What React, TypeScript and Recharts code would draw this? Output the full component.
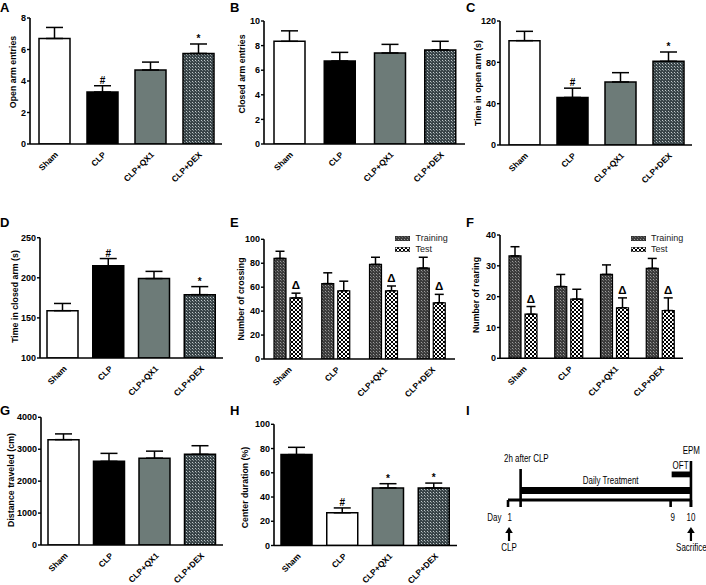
import React from 'react';
import {
  BarChart, Bar, XAxis, YAxis, ErrorBar, Cell, LabelList, Legend,
  ComposedChart, ReferenceLine, ReferenceArea, Scatter,
} from 'recharts';

const FONT = "'Liberation Sans', Arial, Helvetica, sans-serif";

// ---------------- data ----------------
const CATEGORIES = ['Sham', 'CLP', 'CLP+QX1', 'CLP+DEX'];

const A_VALUES = [6.7, 3.3, 4.7, 5.75];
const A_ERRORS = [0.7, 0.4, 0.5, 0.6];
const A_MARKS = ['', '#', '', '*'];
const A_TICKS = [0, 2, 4, 6, 8];

const B_VALUES = [8.35, 6.75, 7.4, 7.65];
const B_ERRORS = [0.85, 0.7, 0.7, 0.7];
const B_MARKS = ['', '', '', ''];
const B_TICKS = [0, 2, 4, 6, 8, 10];

const C_VALUES = [101, 46, 61, 81];
const C_ERRORS = [9, 9, 9, 9];
const C_MARKS = ['', '#', '', '*'];
const C_TICKS = [0, 40, 80, 120];

const D_VALUES = [159, 215, 199, 179];
const D_ERRORS = [9, 9, 9, 10];
const D_MARKS = ['', '#', '', '*'];
const D_TICKS = [100, 150, 200, 250];

const SERIES_NAMES = ['Training', 'Test'];

const E_TRAINING = [84, 63, 79, 76];
const E_TRAINING_ERR = [6, 9, 6, 9];
const E_TEST = [51, 57, 57, 47];
const E_TEST_ERR = [4, 8, 4, 7];
const E_MARKS = ['Δ', '', 'Δ', 'Δ'];
const E_TICKS = [0, 20, 40, 60, 80, 100];

const F_TRAINING = [33.2, 23.3, 27.2, 29.2];
const F_TRAINING_ERR = [3, 3.9, 3.1, 3.2];
const F_TEST = [14.3, 19.2, 16.4, 15.5];
const F_TEST_ERR = [2.5, 3.2, 3.2, 4.1];
const F_MARKS = ['Δ', '', 'Δ', 'Δ'];
const F_TICKS = [0, 10, 20, 30, 40];

const G_VALUES = [3300, 2620, 2720, 2840];
const G_ERRORS = [180, 250, 220, 270];
const G_MARKS = ['', '', '', ''];
const G_TICKS = [0, 1000, 2000, 3000, 4000];

const H_VALUES = [75, 27, 47.5, 47.5];
const H_ERRORS = [6, 4, 3.5, 4];
const H_MARKS = ['', '#', '*', '*'];
const H_TICKS = [0, 20, 40, 60, 80, 100];

// timeline (panel I)
const TIMELINE_START_DAY = 1;
const TIMELINE_END_DAY = 10;
const TIMELINE_TICK_DAYS = [1, 9, 10];
const TREATMENT_START_DAY = 1.62; // "2h after CLP" (schematic)
const OFT_START_DAY = 9.05;
const EPM_DAY = 10;
const I_LABELS = [
  { x: 0.8, y: 72, label: '2h after CLP', anchor: 'start' },
  { x: 6.05, y: 94, label: 'Daily Treatment', anchor: 'middle' },
  { x: 9.88, y: 79, label: 'OFT', anchor: 'end' },
  { x: 10.02, y: 64, label: 'EPM', anchor: 'middle' },
  { x: -0.02, y: 131, label: 'Day', anchor: 'start' },
  { x: 1.08, y: 131, label: '1', anchor: 'middle' },
  { x: 9.1, y: 131, label: '9', anchor: 'middle' },
  { x: 10, y: 131, label: '10', anchor: 'middle' },
  { x: 1.05, y: 161, label: 'CLP', anchor: 'middle' },
  { x: 10.02, y: 161, label: 'Sacrifice', anchor: 'middle' },
];
const I_ARROWS = [{ x: 1.05, y: 137 }, { x: 10, y: 137 }];

// ---------------- styles ----------------
const WHITE = '#ffffff';
const BLACK = '#000000';
const GRAY = '#6d7b78';
const DEX_FILL = 'url(#patDex)';
const TRAIN_FILL = 'url(#patTrain)';
const TEST_FILL = 'url(#patTest)';
const FILLS_STD = [WHITE, BLACK, GRAY, DEX_FILL];
const FILLS_H = [BLACK, WHITE, GRAY, DEX_FILL];
const AXIS_LINE = { stroke: '#000', strokeWidth: 1.6 };

function Patterns() {
  return (
    <svg width={0} height={0} style={{ position: 'absolute' }}>
      <defs>
        <pattern id="patDex" patternUnits="userSpaceOnUse" width={3} height={3}>
          <rect width={3} height={3} fill="#394448" />
          <rect x={0} y={0} width={1} height={1} fill="#c0c8ca" />
          <rect x={1} y={1} width={1} height={1} fill="#7d888b" />
        </pattern>
        <pattern id="patTrain" patternUnits="userSpaceOnUse" width={3} height={3}>
          <rect width={3} height={3} fill="#3c3c3c" />
          <rect x={0} y={0} width={1} height={1} fill="#9c9c9c" />
          <rect x={1} y={1} width={1} height={1} fill="#6c6c6c" />
        </pattern>
        <pattern id="patTest" patternUnits="userSpaceOnUse" width={4} height={4}>
          <rect width={4} height={4} fill="#000" />
          <rect x={0} y={0} width={2} height={2} fill="#fff" />
          <rect x={2} y={2} width={2} height={2} fill="#fff" />
        </pattern>
      </defs>
    </svg>
  );
}

const XTick = (props: any) => {
  const { x, y, payload } = props;
  const ax = x + 4.5;
  const ay = y + 11.2;
  return (
    <text
      x={ax}
      y={ay}
      transform={`rotate(-45 ${ax} ${ay})`}
      textAnchor="end"
      fontSize={8.4}
      fontWeight="bold"
      fontFamily={FONT}
      fill="#000"
    >
      {payload.value}
    </text>
  );
};

const YLabel = (props: any) => {
  const { cx, cy, text } = props;
  return (
    <text
      x={cx}
      y={cy}
      transform={`rotate(-90 ${cx} ${cy})`}
      textAnchor="middle"
      dominantBaseline="central"
      fontSize={8.8}
      fontWeight="bold"
      fontFamily={FONT}
      fill="#000"
    >
      {text}
    </text>
  );
};

function makeMarkRenderer(values: number[], errors: number[], base: number, gap: number, size: number) {
  return (props: any) => {
    const txt = props.value;
    if (!txt) return null;
    const vb = props.viewBox || props;
    const { x, y, width, height } = vb;
    const idx = props.index;
    const h = Math.abs(height);
    const pxPerUnit = h / (values[idx] - base);
    const top = Math.min(y, y + height) - errors[idx] * pxPerUnit - gap;
    return (
      <text
        x={x + width / 2}
        y={top}
        textAnchor="middle"
        fontSize={size}
        fontWeight="bold"
        fontFamily={FONT}
        fill="#000"
      >
        {txt}
      </text>
    );
  };
}

type SingleProps = {
  left: number; top: number; axisX: number; topY: number; zeroY: number; xEnd: number;
  domain: [number, number]; ticks: number[]; values: number[]; errors: number[]; marks: string[];
  fills: string[]; yLabel: string; labelCX: number; labelCY: number;
};

function SinglePanel(p: SingleProps) {
  const data = CATEGORIES.map((cat, i) => ({ cat, value: p.values[i], err: [0, p.errors[i]], mark: p.marks[i] }));
  const width = p.xEnd - p.left + 6;
  const height = Math.min(p.zeroY - p.top + 60, 585 - p.top);
  const yw = p.axisX - p.left;
  const base = p.domain[0];
  const xAxisH = height - (p.zeroY - p.top) - 4;
  return (
    <div style={{ position: 'absolute', left: p.left, top: p.top }}>
      <BarChart width={width} height={height} data={data} margin={{ top: p.topY - p.top, right: 6, bottom: 4, left: 0 }}>
        <XAxis dataKey="cat" height={xAxisH} interval={0} tickLine={false} tickSize={0} tickMargin={0} axisLine={AXIS_LINE} tick={(t: any) => <XTick {...t} />} />
        <YAxis
          type="number"
          domain={p.domain}
          ticks={p.ticks}
          interval={0}
          allowDataOverflow
          width={yw}
          axisLine={AXIS_LINE}
          tickLine={{ stroke: '#000', strokeWidth: 1.4 }}
          tickSize={3}
          tickMargin={1}
          tick={{ fontSize: 9, fontWeight: 'bold', fill: '#000', fontFamily: FONT }}
          label={<YLabel cx={p.labelCX - p.left} cy={p.labelCY - p.top} text={p.yLabel} />}
        />
        <Bar dataKey="value" barSize={31} stroke="#000" strokeWidth={1.5} isAnimationActive={false}>
          {data.map((d, i) => <Cell key={d.cat} fill={p.fills[i]} />)}
          <ErrorBar dataKey="err" width={8.5} stroke="#000" strokeWidth={1.5} direction="y" />
          <LabelList dataKey="mark" content={makeMarkRenderer(p.values, p.errors, base, 2, 10)} />
        </Bar>
      </BarChart>
    </div>
  );
}

type GroupProps = {
  left: number; top: number; axisX: number; topY: number; zeroY: number; xEnd: number;
  domain: [number, number]; ticks: number[];
  training: number[]; trainingErr: number[]; test: number[]; testErr: number[]; marks: string[];
  yLabel: string; labelCX: number; labelCY: number; legendLeft: number; legendTop: number;
};

const LegendBox = () => (
  <div style={{ fontFamily: FONT, fontSize: 9, color: '#222', lineHeight: '11px' }}>
    {SERIES_NAMES.map((n, i) => (
      <div key={n} style={{ display: 'flex', alignItems: 'center', height: 11.2, whiteSpace: 'nowrap' }}>
        <svg width={15} height={5} style={{ marginRight: 5.5, display: 'block' }}>
          <rect x={0.25} y={0.25} width={14.5} height={4.5} fill={i === 0 ? TRAIN_FILL : TEST_FILL} stroke="#000" strokeWidth={0.5} />
        </svg>
        <span>{n}</span>
      </div>
    ))}
  </div>
);

function GroupPanel(p: GroupProps) {
  const data = CATEGORIES.map((cat, i) => ({
    cat,
    tr: p.training[i], trErr: [0, p.trainingErr[i]],
    te: p.test[i], teErr: [0, p.testErr[i]],
    mark: p.marks[i],
  }));
  const width = p.xEnd - p.left + 6;
  const height = p.zeroY - p.top + 60;
  const yw = p.axisX - p.left;
  return (
    <div style={{ position: 'absolute', left: p.left, top: p.top }}>
      <BarChart width={width} height={height} data={data} barGap={4} margin={{ top: p.topY - p.top, right: 6, bottom: 10, left: 0 }}>
        <XAxis dataKey="cat" height={50} interval={0} tickLine={false} tickSize={0} tickMargin={0} axisLine={AXIS_LINE} tick={(t: any) => <XTick {...t} />} />
        <YAxis
          type="number"
          domain={p.domain}
          ticks={p.ticks}
          interval={0}
          allowDataOverflow
          width={yw}
          axisLine={AXIS_LINE}
          tickLine={{ stroke: '#000', strokeWidth: 1.4 }}
          tickSize={3}
          tickMargin={1}
          tick={{ fontSize: 9, fontWeight: 'bold', fill: '#000', fontFamily: FONT }}
          label={<YLabel cx={p.labelCX - p.left} cy={p.labelCY - p.top} text={p.yLabel} />}
        />
        <Legend
          layout="vertical"
          align="center"
          verticalAlign="middle"
          wrapperStyle={{ left: p.legendLeft - p.left, top: p.legendTop - p.top, width: 'auto', right: 'auto', bottom: 'auto' }}
          content={() => <LegendBox />}
        />
        <Bar dataKey="tr" name={SERIES_NAMES[0]} barSize={12} fill={TRAIN_FILL} stroke="#000" strokeWidth={1.2} isAnimationActive={false}>
          <ErrorBar dataKey="trErr" width={4.5} stroke="#000" strokeWidth={1.5} direction="y" />
        </Bar>
        <Bar dataKey="te" name={SERIES_NAMES[1]} barSize={12} fill={TEST_FILL} stroke="#000" strokeWidth={1.2} isAnimationActive={false}>
          <ErrorBar dataKey="teErr" width={4.5} stroke="#000" strokeWidth={1.5} direction="y" />
          <LabelList dataKey="mark" content={makeMarkRenderer(p.test, p.testErr, 0, 4, 11.5)} />
        </Bar>
      </BarChart>
    </div>
  );
}

const TextShape = (props: any) => {
  const { cx, cy, payload } = props;
  return (
    <text
      x={0}
      y={0}
      transform={`translate(${cx} ${cy}) scale(0.76 1)`}
      textAnchor={payload.anchor}
      fontSize={10.5}
      fontFamily={FONT}
      fill="#000"
    >
      {payload.label}
    </text>
  );
};

const ArrowShape = (props: any) => {
  const { cx, cy } = props;
  return (
    <g>
      <line x1={cx} y1={cy + 4} x2={cx} y2={cy + 14} stroke="#000" strokeWidth={2.2} />
      <path d={`M ${cx - 3.8} ${cy + 6} L ${cx} ${cy} L ${cx + 3.8} ${cy + 6} Z`} fill="#000" />
    </g>
  );
};

function TimelinePanel() {
  const axisLevel = 110;
  const tickBottom = 117;
  return (
    <div style={{ position: 'absolute', left: 470, top: 390 }}>
      <ComposedChart width={236} height={195} margin={{ top: 0, right: 0, bottom: 0, left: 0 }}>
        <XAxis type="number" dataKey="x" domain={[-0.87, 10.74]} allowDataOverflow hide />
        <YAxis type="number" dataKey="y" domain={[0, 195]} reversed allowDataOverflow hide />
        <ReferenceArea x1={TREATMENT_START_DAY} x2={TIMELINE_END_DAY} y1={97} y2={104} fill="#000" fillOpacity={1} stroke="none" />
        <ReferenceArea x1={OFT_START_DAY} x2={EPM_DAY} y1={81.5} y2={87.3} fill="#000" fillOpacity={1} stroke="none" />
        <ReferenceLine segment={[{ x: TIMELINE_START_DAY, y: axisLevel }, { x: TIMELINE_END_DAY, y: axisLevel }]} stroke="#000" strokeWidth={3} />
        {TIMELINE_TICK_DAYS.map((d) => (
          <ReferenceLine key={d} segment={[{ x: d, y: axisLevel }, { x: d, y: tickBottom }]} stroke="#000" strokeWidth={2.6} />
        ))}
        <ReferenceLine segment={[{ x: TREATMENT_START_DAY, y: 79 }, { x: TREATMENT_START_DAY, y: tickBottom }]} stroke="#000" strokeWidth={2.6} />
        <ReferenceLine segment={[{ x: EPM_DAY, y: 71 }, { x: EPM_DAY, y: tickBottom }]} stroke="#000" strokeWidth={2.6} />
        <Scatter data={I_LABELS} shape={(s: any) => <TextShape {...s} />} isAnimationActive={false} />
        <Scatter data={I_ARROWS} shape={(s: any) => <ArrowShape {...s} />} isAnimationActive={false} />
      </ComposedChart>
    </div>
  );
}

const PANEL_LETTERS = [
  { t: 'A', x: 0, y: 1.3 }, { t: 'B', x: 230, y: 1.3 }, { t: 'C', x: 466, y: 1.3 },
  { t: 'D', x: 0, y: 216.3 }, { t: 'E', x: 230, y: 216.3 }, { t: 'F', x: 466, y: 216.3 },
  { t: 'G', x: 0, y: 404.3 }, { t: 'H', x: 230, y: 404.3 }, { t: 'I', x: 466, y: 404.3 },
];

export default function App() {
  return (
    <div style={{ position: 'absolute', left: 0, top: 0, width: 706, height: 585, background: '#fff', overflow: 'hidden', fontFamily: FONT }}>
      <Patterns />
      <SinglePanel left={0} top={0} axisX={30} topY={18} zeroY={144} xEnd={222} domain={[0, 8]} ticks={A_TICKS}
        values={A_VALUES} errors={A_ERRORS} marks={A_MARKS} fills={FILLS_STD} yLabel="Open arm entries" labelCX={12.5} labelCY={72} />
      <SinglePanel left={235} top={0} axisX={264} topY={21} zeroY={144} xEnd={465} domain={[0, 10]} ticks={B_TICKS}
        values={B_VALUES} errors={B_ERRORS} marks={B_MARKS} fills={FILLS_STD} yLabel="Closed arm entries" labelCX={241.5} labelCY={74} />
      <SinglePanel left={470} top={0} axisX={500} topY={21} zeroY={145} xEnd={692} domain={[0, 120]} ticks={C_TICKS}
        values={C_VALUES} errors={C_ERRORS} marks={C_MARKS} fills={FILLS_STD} yLabel="Time in open arm (s)" labelCX={477.5} labelCY={83} />
      <SinglePanel left={0} top={195} axisX={40} topY={237.7} zeroY={358} xEnd={223} domain={[100, 250]} ticks={D_TICKS}
        values={D_VALUES} errors={D_ERRORS} marks={D_MARKS} fills={FILLS_STD} yLabel="Time in closed arm (s)" labelCX={14.5} labelCY={296.5} />
      <GroupPanel left={235} top={195} axisX={264} topY={239.3} zeroY={359} xEnd={455} domain={[0, 100]} ticks={E_TICKS}
        training={E_TRAINING} trainingErr={E_TRAINING_ERR} test={E_TEST} testErr={E_TEST_ERR} marks={E_MARKS}
        yLabel="Number of crossing" labelCX={241} labelCY={299} legendLeft={395} legendTop={232.5} />
      <GroupPanel left={470} top={195} axisX={500} topY={235} zeroY={358.3} xEnd={683} domain={[0, 40]} ticks={F_TICKS}
        training={F_TRAINING} trainingErr={F_TRAINING_ERR} test={F_TEST} testErr={F_TEST_ERR} marks={F_MARKS}
        yLabel="Number of rearing" labelCX={476} labelCY={295} legendLeft={630.5} legendTop={233} />
      <SinglePanel left={0} top={390} axisX={41} topY={417.3} zeroY={545} xEnd={223} domain={[0, 4000]} ticks={G_TICKS}
        values={G_VALUES} errors={G_ERRORS} marks={G_MARKS} fills={FILLS_STD} yLabel="Distance traveled (cm)" labelCX={10.5} labelCY={480} />
      <SinglePanel left={235} top={390} axisX={274} topY={424.3} zeroY={545.5} xEnd={457} domain={[0, 100]} ticks={H_TICKS}
        values={H_VALUES} errors={H_ERRORS} marks={H_MARKS} fills={FILLS_H} yLabel="Center duration (%)" labelCX={245} labelCY={487.5} />
      <TimelinePanel />
      {PANEL_LETTERS.map((l) => (
        <div key={l.t} style={{ position: 'absolute', left: l.x, top: l.y, fontFamily: FONT, fontWeight: 'bold', fontSize: 13, lineHeight: 1 }}>
          {l.t}
        </div>
      ))}
    </div>
  );
}
